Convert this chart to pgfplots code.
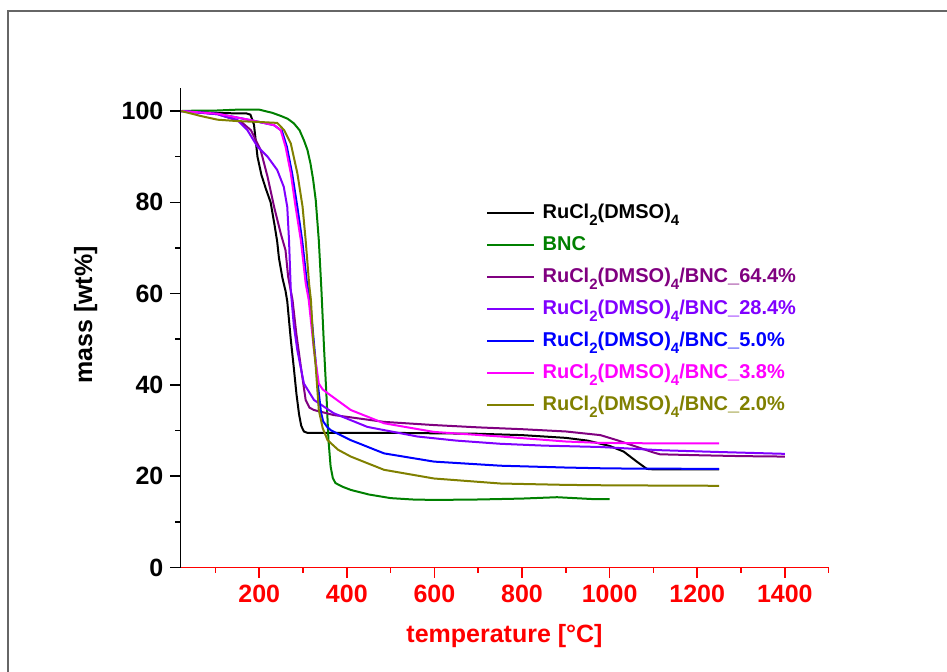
\documentclass[border=0pt]{standalone}
\usepackage{fontspec}
\setmainfont{Liberation Sans}
\usepackage{pgfplots}
\pgfplotsset{compat=1.18}
\definecolor{cBNC}{RGB}{0,128,0}
\definecolor{cP}{RGB}{128,0,128}
\definecolor{cV}{RGB}{128,0,255}
\definecolor{cB}{RGB}{0,0,255}
\definecolor{cM}{RGB}{255,0,255}
\definecolor{cO}{RGB}{128,128,0}
\newcommand{\sub}[1]{\raisebox{-3.2pt}{\fontsize{7.5}{8}\selectfont #1}}
\newcommand{\ru}{RuCl\sub{2}(DMSO)\sub{4}}

\begin{document}
\begin{tikzpicture}
\path[use as bounding box] (0,0) rectangle (473.5pt,335.5pt);
\draw[line width=1pt, gray!80!black] (4pt,-2pt) -- (4pt,330pt) -- (476pt,330pt);
\begin{axis}[
    at={(90.2pt,51.75pt)}, anchor=south west,
    scale only axis, width=324.1pt, height=239.65pt,
    xmin=20, xmax=1500, ymin=0, ymax=105,
    axis x line*=bottom, axis y line*=left,
    x axis line style={red, line width=0.8pt, -},
    y axis line style={black, line width=0.8pt, -},
    xtick={200,400,...,1400}, minor xtick={100,300,...,1500},
    ytick={0,20,...,100}, minor ytick={10,30,...,90},
    tick align=outside,
    major tick length=5pt, minor tick length=2.5pt,
    x tick style={red, line width=0.8pt},
    y tick style={black, line width=0.8pt},
    /pgf/number format/assume math mode=true,
    /pgf/number format/1000 sep={},
    tick label style={font=\bfseries\fontsize{12.5}{14}\selectfont},
    x tick label style={red},
    xlabel={temperature [°C]},
    ylabel={mass [wt\%]},
    label style={font=\bfseries\fontsize{12.5}{14}\selectfont},
    xlabel style={red, at={(axis description cs:0.5,-0.143)}, anchor=center},
    ylabel style={at={(axis description cs:-0.146,0.527)}, anchor=center},
    every axis plot/.append style={line width=1pt},
    legend cell align=left,
    legend style={draw=none, fill=none, at={(0.4715,0.5395)}, anchor=west,
        inner sep=0pt, row sep=4pt,
        nodes={inner sep=0pt, text height=9pt, text depth=3pt},
        font=\bfseries\fontsize{10}{12}\selectfont,
        /tikz/every odd column/.append style={column sep=4pt}},
    legend image code/.code={\draw[line width=0.6pt] (0pt,0pt) -- (23.5pt,0pt);},
  ]
  % RuCl2(DMSO)4
  \addplot[black] coordinates {
    (22,100.0)(60,99.8)(100,99.6)(140,99.5)(170,99.5)(180,99.2)(188,97)(196,90)
    (205,86)(215,83)(226,80)(235,75)(241,71.4)(245,67.8)(253,63.4)(260,60.6)
    (264,58.3)(272,50)(279,43.7)(285,38)(291,33.5)(296,31)(302,29.8)(310,29.5)
    (400,29.5)(500,29.5)(600,29.4)(700,29.3)(800,29.0)(900,28.4)(950,27.8)
    (1001,26.6)(1032,25.4)(1062,23.2)(1085,21.6)(1100,21.5)(1250,21.5)
  };
  \addlegendentry{\ru}
  % BNC
  \addplot[cBNC] coordinates {
    (22,100)(60,100.1)(100,100.1)(150,100.3)(200,100.3)(230,99.6)(250,98.9)
    (265,98.3)(279,97.3)(292,95.8)(302,93.6)(310,91.5)(317,88.5)(323,85)
    (329,80.5)(336,71.7)(342,60.8)(348,48)(354,36.7)(358,28)(363,22.1)
    (368,19.6)(374,18.5)(390,17.7)(409,17)(450,16)(500,15.2)(550,14.9)(600,14.8)
    (700,14.9)(800,15.1)(880,15.4)(920,15.2)(960,15.0)(1000,15.0)
  };
  \addlegendentry{\textcolor{cBNC}{BNC}}
  % 64.4%
  \addplot[cP] coordinates {
    (22,100)(105,99.3)(158,97.7)(181,95.8)(203,91.5)(219,85.6)(234,79)(249,73.2)
    (260,69.5)(266,63.7)(276,58.6)(285,51)(295,44)(306,36.7)(315,35)(325,34.5)
    (370,33.4)(485,31.9)(600,31.2)(700,30.7)(800,30.3)(900,29.8)(979,29)
    (1020,27.8)(1060,26.5)(1100,25.2)(1115,24.8)(1200,24.6)(1300,24.4)(1400,24.3)
  };
  \addlegendentry{\textcolor{cP}{\ru/BNC\_64.4\%}}
  % 28.4%
  \addplot[cV] coordinates {
    (22,100)(105,99.3)(150,98)(173,95.8)(196,92.2)(219,90)(241,87.1)(256,83.4)
    (264,79)(268,71.7)(272,60.8)(279,53)(287,47.6)(302,40.3)(325,36.7)
    (370,33.8)(447,30.8)(561,28.7)(650,27.8)(751,27.1)(850,26.7)(979,26.4)
    (1115,25.7)(1250,25.3)(1400,24.9)
  };
  \addlegendentry{\textcolor{cV}{\ru/BNC\_28.4\%}}
  % 5.0%
  \addplot[cB] coordinates {
    (22,100)(105,99.4)(180,98)(234,96.9)(252,95.6)(263,92.2)(275,86.4)(287,79)
    (298,71.7)(309,62.3)(316,58.6)(326,48)(334,40)(341,34)(346,32)(355,30.8)
    (363,30.1)(409,27.9)(485,25)(599,23.2)(751,22.3)(900,21.9)(1000,21.7)
    (1250,21.6)
  };
  \addlegendentry{\textcolor{cB}{\ru/BNC\_5.0\%}}
  % 3.8%
  \addplot[cM] coordinates {
    (22,100)(105,99.4)(181,98)(234,96.9)(249,95.8)(260,92.2)(272,86.4)(283,79)
    (295,71.7)(306,62.3)(313,58.6)(325,47.6)(336,40.3)(345,39)(356,38.2)
    (409,34.5)(485,31.6)(599,29.7)(751,28.7)(900,27.6)(979,27.3)(1100,27.2)
    (1250,27.2)
  };
  \addlegendentry{\textcolor{cM}{\ru/BNC\_3.8\%}}
  % 2.0%
  \addplot[cO] coordinates {
    (22,100)(67,98.9)(105,98.1)(150,97.8)(200,97.6)(241,97.4)(257,95.8)
    (272,92.9)(287,86.4)(299,79)(306,71.7)(314,62)(318,58.6)(323,50)(329,44)
    (336,34.5)(345,30.5)(356,27.9)(380,25.8)(409,24.3)(485,21.4)(599,19.5)
    (751,18.4)(900,18.1)(1000,18.0)(1250,17.9)
  };
  \addlegendentry{\textcolor{cO}{\ru/BNC\_2.0\%}}
\end{axis}
\end{tikzpicture}
\end{document}
